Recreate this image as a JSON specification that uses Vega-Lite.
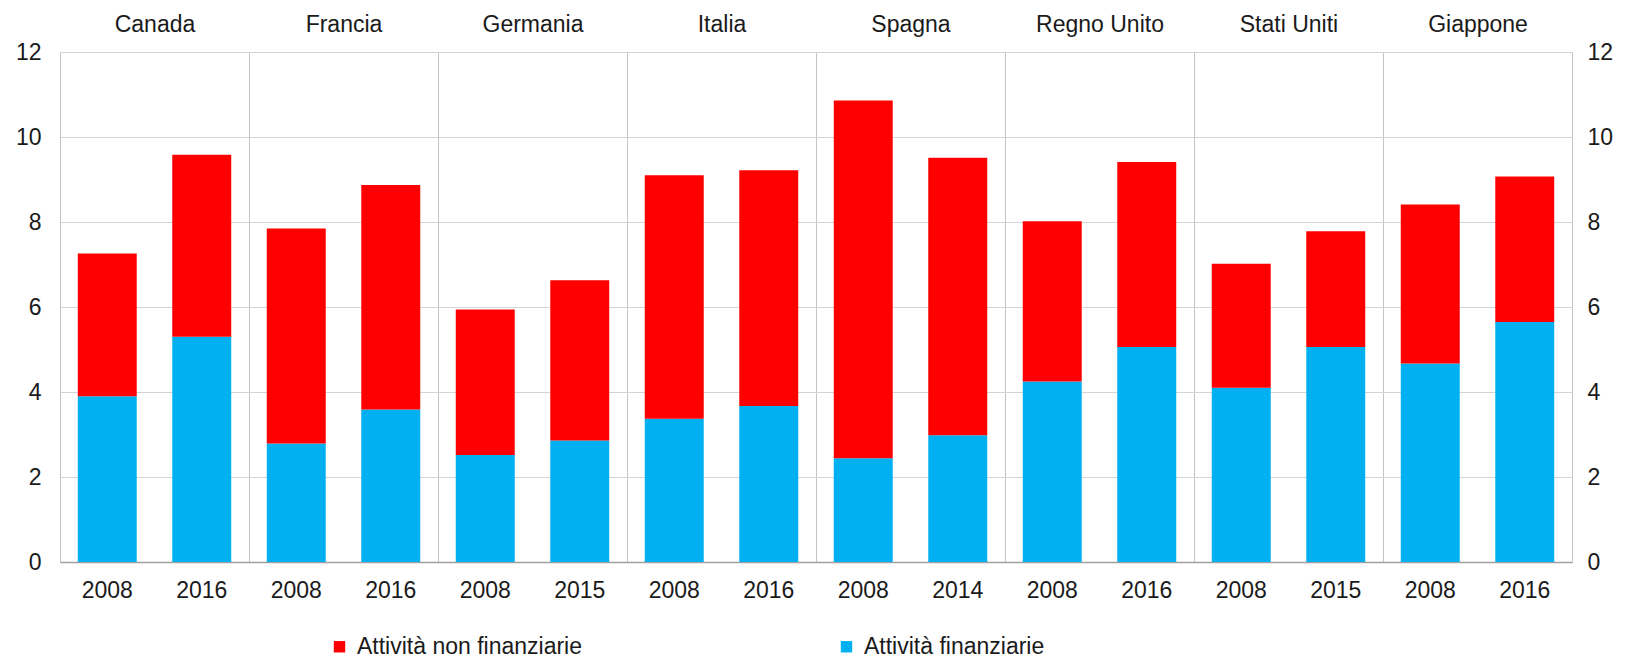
{
  "$schema": "https://vega.github.io/schema/vega-lite/v6.json",
  "width": 1512,
  "height": 510,
  "autosize": {"type": "none"},
  "padding": {"left": 60, "top": 52, "right": 59, "bottom": 96},
  "config": {
    "font": "Liberation Sans",
    "view": {"stroke": "#D0D0D0", "strokeWidth": 1},
    "axis": {"labelFont": "Liberation Sans", "labelFontSize": 23, "labelColor": "#1a1a1a", "ticks": false, "title": null}
  },
  "data": {
    "values": [
      {"country": "Canada", "year": "2008", "key": "Canada 2008", "type": "Attività finanziarie", "value": 3.9},
      {"country": "Canada", "year": "2008", "key": "Canada 2008", "type": "Attività non finanziarie", "value": 3.36},
      {"country": "Canada", "year": "2016", "key": "Canada 2016", "type": "Attività finanziarie", "value": 5.3},
      {"country": "Canada", "year": "2016", "key": "Canada 2016", "type": "Attività non finanziarie", "value": 4.28},
      {"country": "Francia", "year": "2008", "key": "Francia 2008", "type": "Attività finanziarie", "value": 2.79},
      {"country": "Francia", "year": "2008", "key": "Francia 2008", "type": "Attività non finanziarie", "value": 5.06},
      {"country": "Francia", "year": "2016", "key": "Francia 2016", "type": "Attività finanziarie", "value": 3.59},
      {"country": "Francia", "year": "2016", "key": "Francia 2016", "type": "Attività non finanziarie", "value": 5.28},
      {"country": "Germania", "year": "2008", "key": "Germania 2008", "type": "Attività finanziarie", "value": 2.52},
      {"country": "Germania", "year": "2008", "key": "Germania 2008", "type": "Attività non finanziarie", "value": 3.42},
      {"country": "Germania", "year": "2015", "key": "Germania 2015", "type": "Attività finanziarie", "value": 2.86},
      {"country": "Germania", "year": "2015", "key": "Germania 2015", "type": "Attività non finanziarie", "value": 3.77},
      {"country": "Italia", "year": "2008", "key": "Italia 2008", "type": "Attività finanziarie", "value": 3.37},
      {"country": "Italia", "year": "2008", "key": "Italia 2008", "type": "Attività non finanziarie", "value": 5.73},
      {"country": "Italia", "year": "2016", "key": "Italia 2016", "type": "Attività finanziarie", "value": 3.67},
      {"country": "Italia", "year": "2016", "key": "Italia 2016", "type": "Attività non finanziarie", "value": 5.55},
      {"country": "Spagna", "year": "2008", "key": "Spagna 2008", "type": "Attività finanziarie", "value": 2.44},
      {"country": "Spagna", "year": "2008", "key": "Spagna 2008", "type": "Attività non finanziarie", "value": 8.42},
      {"country": "Spagna", "year": "2014", "key": "Spagna 2014", "type": "Attività finanziarie", "value": 2.98},
      {"country": "Spagna", "year": "2014", "key": "Spagna 2014", "type": "Attività non finanziarie", "value": 6.53},
      {"country": "Regno Unito", "year": "2008", "key": "Regno Unito 2008", "type": "Attività finanziarie", "value": 4.25},
      {"country": "Regno Unito", "year": "2008", "key": "Regno Unito 2008", "type": "Attività non finanziarie", "value": 3.77},
      {"country": "Regno Unito", "year": "2016", "key": "Regno Unito 2016", "type": "Attività finanziarie", "value": 5.06},
      {"country": "Regno Unito", "year": "2016", "key": "Regno Unito 2016", "type": "Attività non finanziarie", "value": 4.35},
      {"country": "Stati Uniti", "year": "2008", "key": "Stati Uniti 2008", "type": "Attività finanziarie", "value": 4.1},
      {"country": "Stati Uniti", "year": "2008", "key": "Stati Uniti 2008", "type": "Attività non finanziarie", "value": 2.92},
      {"country": "Stati Uniti", "year": "2015", "key": "Stati Uniti 2015", "type": "Attività finanziarie", "value": 5.06},
      {"country": "Stati Uniti", "year": "2015", "key": "Stati Uniti 2015", "type": "Attività non finanziarie", "value": 2.72},
      {"country": "Giappone", "year": "2008", "key": "Giappone 2008", "type": "Attività finanziarie", "value": 4.67},
      {"country": "Giappone", "year": "2008", "key": "Giappone 2008", "type": "Attività non finanziarie", "value": 3.74},
      {"country": "Giappone", "year": "2016", "key": "Giappone 2016", "type": "Attività finanziarie", "value": 5.65},
      {"country": "Giappone", "year": "2016", "key": "Giappone 2016", "type": "Attività non finanziarie", "value": 3.42}
    ]
  },
  "layer": [
    {
      "mark": {"type": "point", "opacity": 0},
      "encoding": {
        "x": {
          "field": "country", "type": "nominal",
          "sort": ["Canada", "Francia", "Germania", "Italia", "Spagna", "Regno Unito", "Stati Uniti", "Giappone"],
          "scale": {"type": "band", "paddingInner": 0, "paddingOuter": 0},
          "axis": {"orient": "top", "tickBand": "extent", "grid": true, "gridColor": "#C4C4C4", "gridWidth": 1, "domain": false, "labelPadding": 16, "labelAngle": 0}
        },
        "y": {
          "field": "value", "type": "quantitative",
          "scale": {"domain": [0, 12], "nice": false},
          "axis": {"orient": "right", "grid": false, "domain": false, "values": [0, 2, 4, 6, 8, 10, 12], "labelOverlap": false, "labelPadding": 15, "labelAlign": "left"}
        }
      }
    },
    {
      "mark": {"type": "bar"},
      "encoding": {
        "x": {
          "field": "key", "type": "nominal",
          "sort": ["Canada 2008", "Canada 2016", "Francia 2008", "Francia 2016", "Germania 2008", "Germania 2015", "Italia 2008", "Italia 2016", "Spagna 2008", "Spagna 2014", "Regno Unito 2008", "Regno Unito 2016", "Stati Uniti 2008", "Stati Uniti 2015", "Giappone 2008", "Giappone 2016"],
          "scale": {"paddingInner": 0.376, "paddingOuter": 0.188},
          "axis": {"orient": "bottom", "labelExpr": "slice(datum.label, -4)", "labelAngle": 0, "domain": true, "domainColor": "#A0A0A0", "domainWidth": 1.5, "labelPadding": 17, "grid": false}
        },
        "y": {
          "field": "value", "type": "quantitative", "stack": "zero",
          "scale": {"domain": [0, 12], "nice": false},
          "axis": {"orient": "left", "grid": true, "gridColor": "#D4D4D4", "domain": false, "values": [0, 2, 4, 6, 8, 10, 12], "labelOverlap": false, "labelPadding": 19}
        },
        "color": {
          "field": "type", "type": "nominal",
          "scale": {"domain": ["Attività non finanziarie", "Attività finanziarie"], "range": ["#FF0000", "#00B0F0"]},
          "legend": {
            "title": null, "orient": "none", "direction": "horizontal",
            "legendX": 268, "legendY": 583,
            "symbolType": "square", "symbolSize": 130, "symbolStrokeWidth": 0,
            "labelFontSize": 23, "labelFont": "Liberation Sans", "labelColor": "#1a1a1a",
            "labelLimit": 400, "columnPadding": 252, "labelOffset": 6
          }
        },
        "order": {"field": "type", "sort": "ascending"}
      }
    }
  ],
  "resolve": {"scale": {"x": "independent", "y": "independent"}}
}
